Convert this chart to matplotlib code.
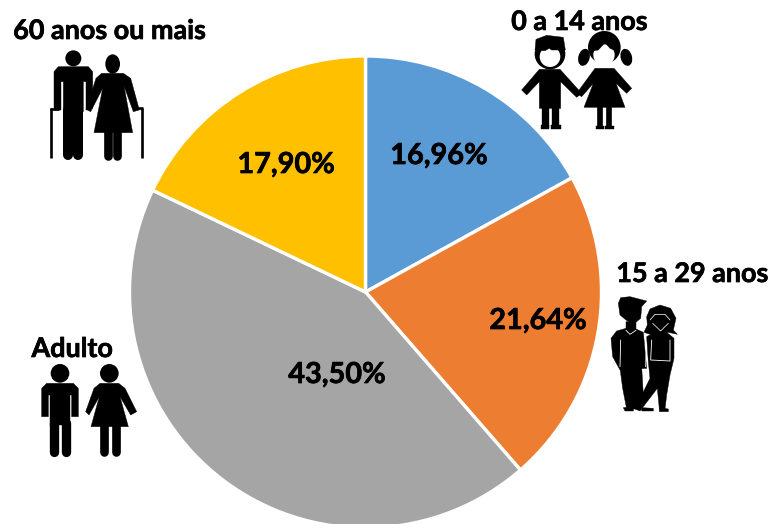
import matplotlib
matplotlib.use("Agg")
import matplotlib.pyplot as plt
import matplotlib.patheffects as pe
from matplotlib.patches import Circle, Ellipse, Polygon

categories = ["0 a 14 anos", "15 a 29 anos", "Adulto", "60 anos ou mais"]
values = [16.96, 21.64, 43.50, 17.90]
colors = ["#5B9BD5", "#ED7D31", "#A5A5A5", "#FFC000"]

W, H = 770, 524
plt.rcParams["font.family"] = ["Lato", "DejaVu Sans"]
fig = plt.figure(figsize=(W / 100, H / 100), dpi=100)
ax = fig.add_axes([0, 0, 1, 1])

ax.pie(values, colors=colors, startangle=90, counterclock=False,
       center=(365.5, H - 292), radius=236, frame=True,
       wedgeprops=dict(edgecolor="white", linewidth=2.4))
ax.set_xlim(0, W)
ax.set_ylim(0, H)
ax.set_aspect("auto")
ax.axis("off")

bold = [pe.withStroke(linewidth=0.5, foreground="black")]

pct_pos = [(439, 156), (538, 321), (337, 375), (286, 165)]
for v, (x, y) in zip(values, pct_pos):
    ax.text(x, H - y, f"{v:.2f}".replace(".", ",") + "%", ha="center", va="center",
            fontsize=20.8, fontweight="bold", color="black", path_effects=bold)

cat_pos = [(579, 22), (692, 274), (72, 349), (109, 31)]
for c, (x, y) in zip(categories, cat_pos):
    ax.text(x, H - y, c, ha="center", va="center", fontsize=19.4,
            fontweight="bold", color="black", zorder=6, path_effects=bold)


class Icon:
    """Drawing helper: coordinates are given in 3x crop units from an origin."""
    def __init__(self, ox, oy):
        self.ox, self.oy = ox, oy

    def p(self, x, y):
        return (self.ox + x / 3, H - (self.oy + y / 3))

    def poly(self, pts, c="black", z=7):
        ax.add_patch(Polygon([self.p(*q) for q in pts], closed=True, fc=c, ec=c, lw=0.3,
                             joinstyle="round", zorder=z))

    def circ(self, x, y, r, c="black", z=7):
        ax.add_patch(Circle(self.p(x, y), r / 3, fc=c, ec="none", zorder=z))

    def ell(self, x, y, w, h, c="black", z=7, angle=0):
        ax.add_patch(Ellipse(self.p(x, y), w / 3, h / 3, angle=angle, fc=c, ec="none", zorder=z))

    def line(self, pts, w, c="black", z=7, cap="round"):
        xs, ys = zip(*[self.p(*q) for q in pts])
        ax.plot(xs, ys, color=c, lw=w / 3 * 0.72, solid_capstyle=cap,
                solid_joinstyle="round", zorder=z)


# Children
k = Icon(510, 0)
k.circ(120, 162, 46)
k.poly([(75, 150), (78, 118), (110, 106), (160, 112), (166, 150)])
k.circ(120, 170, 31, "white", 8)
k.poly([(88, 152), (105, 152), (118, 145), (125, 150), (152, 150), (158, 125), (85, 125)], z=9)
k.poly([(88, 208), (150, 208), (215, 280), (200, 292), (152, 245), (152, 325), (88, 325), (88, 245), (50, 285), (35, 270)])
k.line([(105, 320), (105, 380)], 22, cap="butt")
k.line([(136, 320), (136, 380)], 22, cap="butt")
k.poly([(93, 376), (118, 376), (118, 388), (93, 388)])
k.poly([(124, 376), (152, 376), (152, 388), (124, 388)])
# girl: hair, pigtails, face
k.ell(283, 142, 98, 98)
k.ell(222, 172, 34, 52, angle=-15)
k.ell(349, 172, 34, 52, angle=15)
k.ell(236, 170, 22, 30, "white", 6.5)
k.circ(282, 165, 32, "white", 8)
k.poly([(250, 152), (265, 150), (285, 128), (300, 145), (316, 152), (312, 120), (255, 120)], z=9)
k.poly([(255, 205), (312, 205), (365, 265), (350, 280), (318, 250), (345, 322), (222, 322), (250, 250), (215, 290), (200, 280)])
k.line([(270, 320), (270, 380)], 17, cap="butt")
k.line([(298, 320), (298, 380)], 17, cap="butt")
k.poly([(258, 378), (282, 378), (282, 388), (258, 388)])
k.poly([(286, 378), (312, 378), (312, 388), (286, 388)])

# Elderly couple
e = Icon(0, 10)
e.circ(220, 145, 24)
e.poly([(175, 170), (265, 170), (278, 185), (278, 295), (258, 300), (258, 215), (250, 215), (250, 305),
        (190, 305), (190, 215), (183, 215), (183, 300), (162, 300), (162, 185)])
e.line([(205, 300), (205, 435)], 30)
e.line([(235, 300), (235, 435)], 30)
e.line([(153, 295), (153, 445)], 8, cap="butt")
e.line([(150, 297), (178, 297)], 8, cap="butt")
e.ell(338, 162, 44, 58)
e.poly([(305, 190), (370, 190), (392, 205), (418, 300), (400, 305), (372, 228), (398, 368), (282, 368), (308, 235),
        (272, 305), (258, 298), (288, 205)])
e.line([(323, 365), (323, 438)], 26)
e.line([(352, 365), (352, 438)], 26)
e.line([(425, 295), (425, 445)], 8, cap="butt")
e.line([(400, 295), (428, 295)], 8, cap="butt")

# Young couple
y = Icon(600, 255)
# man
y.poly([(55, 145), (62, 128), (90, 125), (140, 138), (125, 155), (122, 190), (100, 208), (78, 195), (60, 180)])
y.poly([(78, 200), (108, 200), (108, 222), (130, 232), (140, 340), (60, 345), (38, 305), (33, 250), (50, 228), (78, 220)])
y.poly([(60, 340), (125, 335), (130, 420), (118, 462), (80, 462), (68, 400)])
y.poly([(70, 458), (100, 455), (100, 468), (75, 468)])
y.poly([(125, 458), (160, 460), (160, 468), (125, 468)])
y.line([(62, 255), (60, 335)], 2.5, "white", 8)
y.line([(78, 226), (90, 238), (108, 226)], 2.5, "white", 8)
# woman
y.poly([(140, 185), (150, 162), (180, 150), (212, 160), (228, 190), (220, 225), (232, 238), (205, 232), (150, 238), (132, 232), (142, 210)], z=8)
y.line([(150, 195), (165, 178), (195, 178), (210, 195)], 2.2, "white", 8.2)
y.line([(158, 205), (182, 228), (205, 205)], 2.2, "white", 8.2)
y.poly([(140, 245), (165, 232), (200, 232), (222, 250), (222, 310), (210, 360), (200, 420), (195, 462), (178, 462),
        (172, 400), (120, 468), (105, 462), (150, 370), (145, 320)], z=8)
y.line([(140, 240), (137, 335)], 2.5, "white", 7.9)
y.line([(155, 255), (152, 315), (210, 318), (210, 255)], 2.5, "white", 8.5)
y.poly([(178, 458), (205, 462), (205, 470), (178, 470)], z=8)

# Adults
a = Icon(20, 330)
a.circ(120, 130, 28)
a.poly([(80, 160), (160, 160), (175, 175), (175, 260), (155, 260), (155, 195), (150, 195), (150, 285),
        (90, 285), (90, 195), (85, 195), (85, 260), (65, 260), (65, 175)])
a.line([(103, 280), (103, 365)], 28)
a.line([(137, 280), (137, 365)], 28)
a.circ(268, 130, 28)
a.poly([(240, 160), (296, 160), (315, 175), (350, 245), (332, 255), (300, 200), (325, 290), (213, 290),
        (238, 200), (207, 255), (197, 245), (222, 175)])
a.line([(253, 285), (253, 365)], 26)
a.line([(287, 285), (287, 365)], 26)

fig.savefig("out.png", dpi=100)
